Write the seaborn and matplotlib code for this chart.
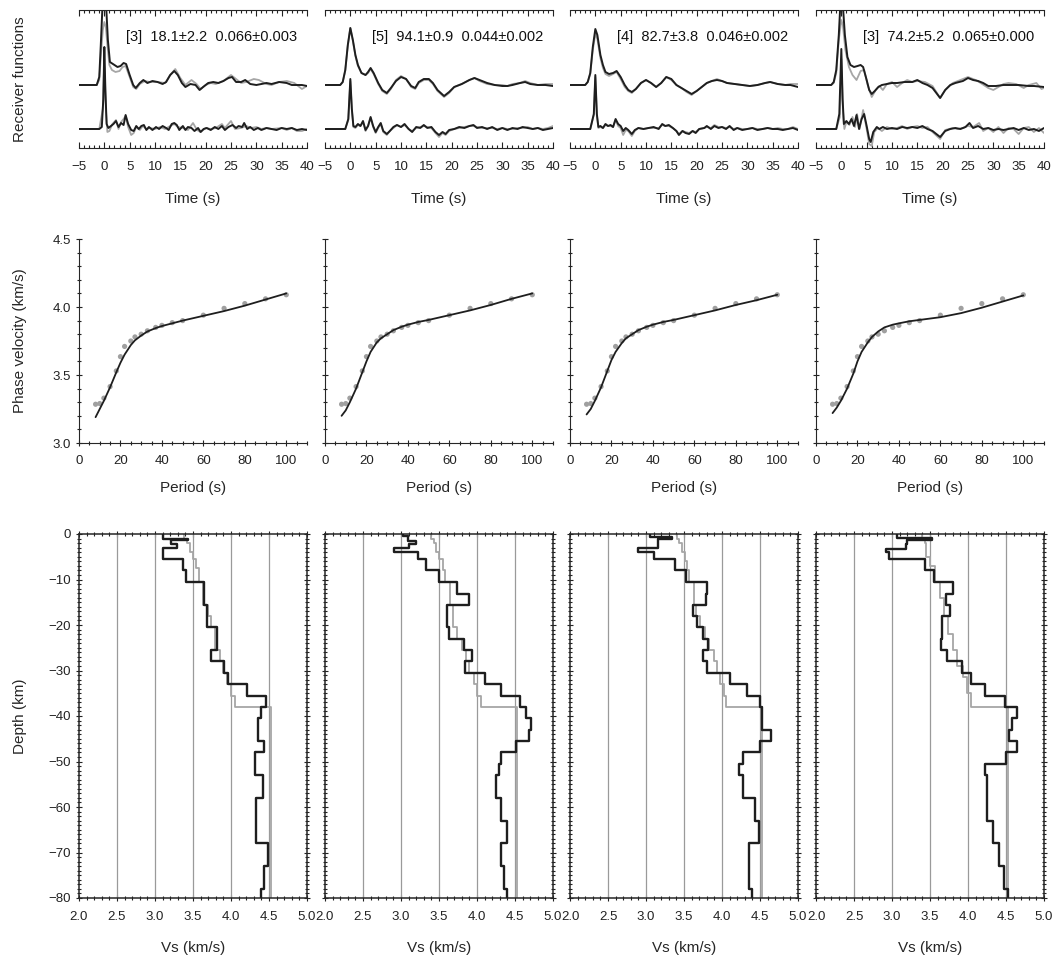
import numpy as np
import pandas as pd
import matplotlib
matplotlib.use("Agg")
import matplotlib.pyplot as plt
from matplotlib.ticker import MultipleLocator
import seaborn as sns

sns.set_style("ticks")
plt.rcParams["font.family"] = ["Liberation Sans", "DejaVu Sans"]

DARK = "#1e1e1e"
LIGHT = "#a6a6a6"

# ---------------- receiver functions (time s, amplitude) ----------------
rf_labels = ["[3]  18.1±2.2  0.066±0.003", "[5]  94.1±0.9  0.044±0.002",
             "[4]  82.7±3.8  0.046±0.002", "[3]  74.2±5.2  0.065±0.000"]

# station 1
rf1_up_dark = [(-5, 0), (-1.5, 0), (-1, 8), (-0.7, 40), (-0.4, 75), (0, 95), (0.4, 75), (0.7, 45), (1.1, 23),
               (2.0, 20), (2.6, 18), (3.2, 19), (3.8, 22), (4.3, 21), (5.0, 10), (5.7, 0), (6.2, -3), (7.0, 2),
               (7.7, 5), (8.5, 2), (9.5, 4), (10.5, 3), (11.5, 1), (12.2, 3), (13.0, 10), (13.8, 14), (14.5, 10),
               (15.3, 2), (16.0, -2), (17.0, 1), (18.0, 0), (18.8, -5), (19.5, -2), (20.5, 2), (21.5, 3),
               (22.5, 2), (23.5, 4), (24.5, 7), (25.2, 8), (26, 3), (27, 3), (27.8, 5), (28.8, 1), (30, 0),
               (31, 1), (32, 2), (33, 1), (34.5, 3), (36, 2), (37, 0), (39, 0), (40, -1)]
rf1_up_light = [(-5, 0), (-1.5, 0), (-1, 5), (-0.6, 35), (-0.3, 55), (0, 63), (0.3, 58), (0.6, 40), (1.0, 20),
                (1.5, 15), (2.2, 13), (3.0, 14), (3.6, 18), (4.2, 19), (5.0, 8), (5.7, -2), (6.3, -4), (7.0, 1),
                (8.0, 4), (9.0, 3), (10.5, 3), (12.0, 2), (13.0, 10), (14.0, 16), (15.0, 7), (16.0, 0),
                (17.2, 5), (18.2, 1), (19, -4), (20, 0), (21, 2), (22, 1), (23.5, 4), (25, 10), (26, 6), (27, 2),
                (28, 3), (29.5, 6), (30.5, 5), (32, 1), (33, 0), (34.5, 3), (36, 4), (37.5, 2), (39, -4), (40, -1)]
rf1_lo_dark = [(-5, 0), (-1.0, 0), (-0.5, 2), (-0.2, 30), (0, 82), (0.2, 40), (0.45, 5), (0.8, 1), (1.3, 3),
               (1.8, 5), (2.3, 8), (2.8, 2), (3.3, 6), (3.8, 4), (4.2, 14), (4.7, 5), (5.3, -1), (5.8, -2),
               (6.3, 3), (6.8, 0), (7.3, 3), (7.8, 4), (8.3, -1), (8.8, 2), (9.5, -1), (10.2, 2), (10.8, 0),
               (11.5, 3), (12.2, 1), (12.7, -1), (13.3, 5), (13.8, 6), (14.3, 4), (14.8, -1), (15.5, 3),
               (16.0, -1), (16.5, 2), (17.2, 1), (17.8, -2), (18.5, 1), (19.0, -3), (19.6, 0), (20.2, 1),
               (21, -1), (21.8, 2), (22.5, 0), (23.2, 3), (23.8, -1), (24.5, 2), (25.3, 4), (26, 1), (26.5, 3),
               (27.2, 2), (27.6, 6), (28.2, 0), (28.8, 2), (29.5, -1), (30.3, 1), (31, -1), (32, 1), (33, 0),
               (34, -1), (35, 1), (36, 0), (37, 1), (38, -1), (39, 0), (40, -1)]
rf1_lo_light = [(-5, 0), (-1, 0), (-0.3, 20), (0, 70), (0.3, 20), (0.6, -3), (1.0, -2), (1.6, 5), (2.3, 9),
                (2.8, 0), (3.3, 7), (3.8, 10), (4.2, 13), (4.7, 2), (5.3, -6), (5.8, -4), (6.3, 2), (7, -1),
                (7.6, 3), (8.3, 0), (9, 1), (10, 0), (11, 2), (12, 0), (13, 3), (13.8, 5), (14.5, 2), (15.5, 1),
                (16.5, -1), (17.5, 6), (18.3, -1), (19, -3), (20, 1), (21, 0), (22, 1), (23.2, 5), (23.8, 1),
                (25.0, 8), (25.8, 0), (27, 1), (28, 3), (29, 1), (30, 2), (31, 0), (32, 1), (33, 0), (35, 1),
                (36, -1), (37, 1), (38, -2), (39, -2), (40, 0)]

# station 2
rf2_up_dark = [(-5, 0), (-2, 0), (-1.5, 3), (-1, 15), (-0.5, 40), (0, 57), (0.5, 45), (1.0, 30), (1.5, 20),
               (2.2, 12), (3.0, 10), (3.5, 13), (4.0, 17), (4.6, 12), (5.5, 2), (6.3, -5), (7.2, -8), (8.0, -3),
               (9.0, 4), (10.0, 8), (11.0, 6), (12.0, -1), (12.8, -3), (13.5, 3), (14.5, 6), (15.5, 6),
               (16.3, 2), (17.2, -5), (18.5, -11), (19.5, -7), (20.5, -2), (22, 1), (23.5, 5), (24.5, 7),
               (25.5, 5), (27, 2), (28.5, 0), (30, -1), (31, -1), (32, 0), (33.5, 2), (34.5, 3), (35.5, 1),
               (37, 0), (38.5, 0), (40, -1)]
rf2_up_light = [(-5, 0), (-2, 0), (-1.5, 3), (-1, 14), (-0.5, 39), (0, 57), (0.5, 44), (1.0, 29), (1.5, 19),
                (2.2, 12), (3.0, 10), (3.5, 12), (4.0, 16), (4.6, 11), (5.5, 1), (6.3, -6), (7.2, -9), (8.0, -4),
                (9.0, 5), (10.0, 9), (11.0, 6), (12.0, -2), (12.8, -4), (13.5, 2), (14.5, 5), (15.5, 5),
                (16.3, 1), (17.2, -6), (18.5, -12), (19.5, -8), (20.5, -2), (22, 1), (23.5, 5), (24.5, 7),
                (25.5, 4), (27, 1), (28.5, 0), (30, 0), (31, -1), (32, 1), (33.5, 2), (34.5, 4), (35.5, 2),
                (37, 0), (38.5, 1), (40, 1)]
rf2_lo_dark = [(-5, 0), (-1, 0), (-0.4, 10), (0, 50), (0.3, 20), (0.6, 3), (1.0, 2), (1.5, 5), (2.0, 3),
               (2.5, 8), (3.0, -1), (3.5, 3), (4.0, 12), (4.5, 3), (5.0, -3), (5.5, 2), (6.0, 6), (6.5, -2),
               (7.2, -5), (7.8, -2), (8.5, 2), (9.2, 4), (10, 2), (10.7, 5), (11.5, 0), (12.2, -3), (13, 2),
               (13.8, 1), (14.5, 4), (15.2, 1), (16, 2), (16.8, -3), (17.5, -6), (18.2, -3), (18.8, -5),
               (19.5, -1), (20.5, 0), (21.5, 2), (22.5, 1), (23.5, 3), (24.3, 4), (25, 1), (26, 2), (27, 0),
               (28, 2), (29, -1), (30, 1), (31, -1), (32, 1), (33, 0), (34, 2), (35, 1), (36, 0), (37, 1),
               (38, -1), (39, 0), (40, 1)]
rf2_lo_light = [(-5, 0), (-1, 0), (-0.4, 9), (0, 48), (0.3, 19), (0.6, 2), (1.0, 1), (1.5, 4), (2.0, 3),
                (2.5, 7), (3.0, -2), (3.5, 3), (4.0, 11), (4.5, 2), (5.0, -4), (5.5, 1), (6.0, 5), (6.5, -3),
                (7.2, -6), (7.8, -2), (8.5, 1), (9.2, 4), (10, 2), (10.7, 4), (11.5, 0), (12.2, -2), (13, 1),
                (13.8, 2), (14.5, 3), (15.2, 2), (16, 1), (16.8, -4), (17.5, -8), (18.2, -4), (18.8, -6),
                (19.5, -2), (20.5, 0), (21.5, 1), (22.5, 2), (23.5, 3), (24.3, 3), (25, 2), (26, 1), (27, 1),
                (28, 1), (29, 0), (30, 1), (31, 0), (32, 0), (33, 1), (34, 1), (35, 2), (36, 0), (37, 1),
                (38, 0), (39, 1), (40, 3)]

# station 3
rf3_up_dark = [(-5, 0), (-2, 0), (-1.5, 3), (-1, 12), (-0.5, 38), (0, 56), (0.4, 50), (1.0, 30), (1.5, 20),
               (2.0, 13), (2.7, 11), (3.5, 12), (4.2, 14), (5.0, 8), (5.8, 0), (6.5, -5), (7.2, -7), (8.0, -4),
               (9.0, 2), (10.0, 5), (11.0, 2), (12.0, -2), (13.0, 2), (14.0, 8), (15.0, 6), (16.0, 0),
               (17.0, -3), (18.0, -6), (19.0, -9), (20.0, -6), (21.0, -2), (22.0, 2), (23.0, 4), (24.0, 5),
               (25.0, 4), (26.0, 2), (27.5, 1), (29, 0), (30.5, -1), (32, 0), (33.5, 2), (34.5, 3), (36, 1),
               (37.5, 0), (38.5, 0), (40, -2)]
rf3_up_light = [(-5, 0), (-2, 0), (-1.5, 3), (-1, 11), (-0.5, 35), (0, 51), (0.4, 46), (1.0, 27), (1.5, 17),
                (2.0, 11), (2.7, 9), (3.5, 11), (4.2, 13), (5.0, 6), (5.8, -2), (6.5, -6), (7.2, -8), (8.0, -4),
                (9.0, 2), (10.0, 5), (11.0, 2), (12.0, -2), (13.0, 2), (14.0, 8), (15.0, 5), (16.0, 0),
                (17.0, -3), (18.0, -7), (19.0, -10), (20.0, -6), (21.0, -2), (22.0, 2), (23.0, 4), (24.0, 6),
                (25.0, 4), (26.0, 2), (27.5, 1), (29, 0), (30.5, -1), (32, 0), (33.5, 2), (34.5, 3), (36, 1),
                (37.5, 0), (38.5, 1), (40, 1)]
rf3_lo_dark = [(-5, 0), (-1, 0), (-0.3, 15), (0, 54), (0.3, 15), (0.6, 2), (1.0, 3), (1.5, 1), (2.0, 5),
               (2.5, 3), (3.0, 4), (3.5, 2), (4.0, 10), (4.5, 5), (5.0, 3), (5.5, -2), (6.0, 1), (6.5, -1),
               (7.2, -5), (7.8, -1), (8.5, 1), (9.5, 0), (10.5, 1), (11.5, 2), (12.5, 0), (13.2, 5), (13.8, 3),
               (14.5, 4), (15.3, 1), (16, -2), (16.5, -6), (17.2, -2), (17.8, -4), (18.5, -5), (19.2, -2),
               (19.8, -4), (20.5, 0), (21.5, 1), (22, 3), (22.8, 0), (23.5, 3), (24.3, 1), (25, 2), (25.8, 0),
               (26.5, 3), (27.3, -1), (28, 1), (29, -1), (30, 0), (31, 1), (32, -1), (33, 0), (34, 1), (35, 0),
               (36, 0), (37, -1), (38, 0), (39, 1), (40, -1)]
rf3_lo_light = [(-5, 0), (-1, 0), (-0.3, 14), (0, 52), (0.3, 14), (0.6, 1), (1.0, 2), (1.5, 1), (2.0, 4),
                (2.5, 3), (3.0, 3), (3.5, 2), (4.0, 9), (4.5, 3), (5.0, 1), (5.5, -6), (6.0, -1), (6.5, -2),
                (7.2, -7), (7.8, -2), (8.5, 1), (9.5, 0), (10.5, 1), (11.5, 1), (12.5, 1), (13.2, 4), (13.8, 3),
                (14.5, 3), (15.3, 1), (16, -2), (16.5, -5), (17.2, -2), (17.8, -3), (18.5, -4), (19.2, -2),
                (19.8, -3), (20.5, 0), (21.5, 1), (22, 2), (22.8, 1), (23.5, 4), (24.3, 2), (25, 2), (25.8, 1),
                (26.5, 2), (27.3, 0), (28, 1), (29, 0), (30, 0), (31, 1), (32, 0), (33, 0), (34, 1), (35, 0),
                (36, 1), (37, 0), (38, 0), (39, 2), (40, 0)]

# station 4
rf4_up_dark = [(-5, 0), (-2, 0), (-1.5, 3), (-1, 15), (-0.5, 50), (-0.2, 80), (0, 95), (0.3, 80), (0.7, 50),
               (1.2, 28), (1.8, 20), (2.5, 18), (3.2, 19), (3.8, 20), (4.3, 18), (5.0, 5), (5.5, -5), (6.0, -9),
               (6.6, -6), (7.3, -2), (8.0, 0), (9.0, 1), (10.0, 2), (11.0, 2), (12.5, 3), (14, 3), (15, 5),
               (16, 2), (17, 0), (18, -3), (19.5, -13), (20.5, -5), (21.5, 0), (22.5, 2), (24, 4), (25, 7),
               (26, 5), (27, 4), (28, 2), (29, -1), (30.5, -1), (32, 0), (33, 0), (35, 0), (37, -1), (38, -1),
               (40, -2)]
rf4_up_light = [(-5, 0), (-2, 0), (-1.5, 2), (-1, 12), (-0.5, 45), (0, 65), (0.3, 60), (0.8, 35), (1.5, 18),
                (2.2, 10), (3.0, 5), (3.8, 14), (4.5, 15), (5.2, 0), (6.0, -12), (6.8, -5), (7.5, -1), (8.2, -5),
                (9.0, 1), (10.0, 3), (11.0, -2), (12.0, 2), (13.0, 5), (14.0, 3), (15.0, 4), (16.5, 3),
                (18, -1), (19.5, -13), (20.5, -5), (22, 2), (23.5, 5), (25, 8), (26.5, 5), (27.5, 2), (29, -3),
                (30, -5), (31, -2), (32, 1), (33, 2), (34.5, 1), (36, -3), (37, 0), (38.5, 2), (39.5, -4),
                (40, -3)]
rf4_lo_dark = [(-5, 0), (-1, 0), (-0.4, 15), (0, 80), (0.25, 30), (0.5, 5), (1.0, 8), (1.5, 5), (2.0, 10),
               (2.5, 3), (3.0, 14), (3.5, 0), (4.0, 10), (4.5, 15), (5.0, 3), (5.5, -10), (5.8, -13), (6.3, -3),
               (7.0, 2), (7.5, 0), (8.2, 2), (9, 0), (10, 1), (11, 0), (12, 2), (13, 1), (14, 2), (15, 1),
               (16, 3), (17, 0), (18, -2), (19.5, -8), (20.5, -2), (21.5, 0), (22.5, 1), (23.5, 0), (24.5, 2),
               (25.3, 6), (26, 1), (27, 3), (28, 0), (29, 1), (30, -1), (31, 0), (32, -1), (33, 0), (34, 1),
               (35, -1), (36, 1), (37, -1), (38, 0), (39, -2), (40, 1)]
rf4_lo_light = [(-5, 0), (-1, 0), (-0.3, 12), (0, 70), (0.3, 20), (0.6, 0), (1.0, 7), (1.6, 4), (2.2, 12),
                (2.7, 2), (3.1, 15), (3.6, 0), (4.3, 19), (5.0, 0), (5.5, -15), (6.0, -17), (6.5, -3), (7.2, 1),
                (8, -2), (9, 2), (10, 0), (11, 1), (12, 3), (13, 0), (14, 2), (15, 3), (16, 1), (17, 2),
                (18, -3), (19.5, -10), (20.5, -1), (22, 1), (23, 0), (24, 1), (25, 3), (26, 2), (27.2, 6),
                (28, -2), (29, 1), (30, -3), (31, 2), (32, -4), (33, 1), (34, 0), (35, -5), (36, 1), (37, 2),
                (38, -3), (39, 1), (40, -4)]

# ---------------- phase velocity dispersion ----------------
period = [8, 10, 12, 15, 18, 20, 22, 25, 27, 30, 33, 37, 40, 45, 50, 60, 70, 80, 90, 100]
c_obs = [3.285, 3.29, 3.33, 3.415, 3.53, 3.635, 3.71, 3.75, 3.78, 3.80, 3.825, 3.85, 3.865, 3.885,
         3.90, 3.94, 3.99, 4.025, 4.06, 4.09]
c_fit1 = [3.19, 3.25, 3.31, 3.41, 3.52, 3.59, 3.65, 3.72, 3.755, 3.79, 3.82, 3.845, 3.86, 3.88,
          3.90, 3.935, 3.97, 4.01, 4.055, 4.10]
c_fit2 = [3.20, 3.24, 3.30, 3.40, 3.52, 3.60, 3.67, 3.74, 3.77, 3.80, 3.83, 3.855, 3.87, 3.89,
          3.905, 3.94, 3.975, 4.015, 4.06, 4.10]
c_fit3 = [3.21, 3.25, 3.31, 3.41, 3.53, 3.61, 3.67, 3.735, 3.77, 3.80, 3.83, 3.855, 3.87, 3.89,
          3.905, 3.94, 3.975, 4.015, 4.05, 4.09]
c_fit4 = [3.22, 3.26, 3.31, 3.40, 3.51, 3.60, 3.67, 3.74, 3.78, 3.82, 3.85, 3.87, 3.88, 3.895,
          3.905, 3.925, 3.955, 3.995, 4.04, 4.085]

# ---------------- Vs models: (layer bottom depth km, Vs km/s) ----------------
vs1_dark = [(1.0, 3.10), (1.4, 3.44), (2.3, 3.21), (3.0, 3.29), (5.5, 3.11), (8.0, 3.37), (10.5, 3.41),
            (15.5, 3.64), (20.5, 3.68), (25.5, 3.81), (28.0, 3.74), (30.5, 3.91), (33.0, 3.96), (35.5, 4.21),
            (38.0, 4.46), (40.5, 4.40), (45.5, 4.36), (48.0, 4.44), (53.0, 4.32), (58.0, 4.42), (68.0, 4.33),
            (73.0, 4.49), (78.0, 4.43), (80.0, 4.39)]
vs1_light = [(1.0, 3.38), (2.0, 3.42), (4.0, 3.46), (5.5, 3.50), (7.5, 3.54), (10.5, 3.58), (15.5, 3.63),
             (18.0, 3.70), (20.5, 3.74), (25.5, 3.79), (28.0, 3.85), (30.5, 3.89), (33.0, 3.95), (35.5, 4.00),
             (38.0, 4.05), (80.0, 4.53)]
vs2_dark = [(0.5, 3.02), (1.6, 3.09), (2.1, 3.20), (3.1, 3.10), (4.0, 2.91), (5.6, 3.22), (8.0, 3.33),
            (10.5, 3.50), (13.1, 3.74), (15.5, 3.89), (20.5, 3.61), (23.0, 3.63), (25.5, 3.83), (28.0, 3.94),
            (30.5, 3.84), (33.0, 4.11), (35.5, 4.32), (38.0, 4.56), (40.5, 4.64), (43.0, 4.71), (45.5, 4.68),
            (48.0, 4.51), (50.5, 4.31), (53.0, 4.29), (58.0, 4.25), (63.0, 4.31), (68.0, 4.40), (73.0, 4.31),
            (78.0, 4.35), (80.0, 4.39)]
vs2_light = [(1.0, 3.40), (2.0, 3.43), (4.0, 3.46), (5.5, 3.50), (8.0, 3.55), (10.5, 3.58), (15.5, 3.64),
             (20.5, 3.68), (23.0, 3.74), (25.5, 3.80), (28.0, 3.86), (30.5, 3.90), (33.0, 3.96), (35.5, 4.00),
             (38.0, 4.05), (80.0, 4.52)]
vs3_dark = [(0.6, 3.05), (1.2, 3.34), (3.1, 3.16), (4.0, 2.89), (5.5, 3.10), (8.0, 3.38), (10.5, 3.52),
            (13.1, 3.80), (15.5, 3.79), (18.0, 3.62), (20.5, 3.67), (23.0, 3.75), (25.5, 3.82), (28.0, 3.75),
            (30.5, 3.80), (33.0, 4.11), (35.5, 4.33), (38.0, 4.50), (43.0, 4.52), (45.5, 4.64), (48.0, 4.50),
            (50.5, 4.28), (53.0, 4.23), (58.0, 4.27), (63.0, 4.44), (68.0, 4.49), (73.0, 4.35), (78.0, 4.36),
            (80.0, 4.39)]
vs3_light = [(1.0, 3.41), (2.0, 3.44), (4.0, 3.47), (6.0, 3.51), (8.0, 3.54), (10.5, 3.57), (15.5, 3.63),
             (18.0, 3.66), (20.5, 3.71), (23.0, 3.77), (25.5, 3.83), (28.0, 3.90), (30.5, 3.93), (33.0, 3.97),
             (35.5, 4.02), (38.0, 4.05), (80.0, 4.53)]
vs4_dark = [(0.8, 3.06), (1.3, 3.53), (2.3, 3.20), (3.3, 3.18), (4.0, 2.92), (5.5, 2.96), (8.0, 3.44),
            (10.5, 3.55), (13.1, 3.80), (15.5, 3.71), (18.0, 3.76), (23.0, 3.66), (25.5, 3.65), (28.0, 3.73),
            (30.5, 3.92), (33.0, 4.04), (35.5, 4.22), (38.0, 4.49), (40.5, 4.65), (43.0, 4.58), (45.5, 4.54),
            (48.0, 4.64), (50.5, 4.50), (53.0, 4.23), (63.0, 4.25), (68.0, 4.33), (73.0, 4.41), (78.0, 4.47),
            (80.0, 4.52)]
vs4_light = [(1.0, 3.40), (2.0, 3.43), (5.0, 3.45), (7.0, 3.50), (10.5, 3.56), (14.0, 3.63), (18.0, 3.68),
             (22.0, 3.74), (25.5, 3.80), (29.0, 3.86), (31.5, 3.93), (35.0, 3.99), (38.0, 4.04), (80.0, 4.52)]

rf_sets = [(rf1_up_dark, rf1_up_light, rf1_lo_dark, rf1_lo_light),
           (rf2_up_dark, rf2_up_light, rf2_lo_dark, rf2_lo_light),
           (rf3_up_dark, rf3_up_light, rf3_lo_dark, rf3_lo_light),
           (rf4_up_dark, rf4_up_light, rf4_lo_dark, rf4_lo_light)]
c_fits = [c_fit1, c_fit2, c_fit3, c_fit4]
vs_sets = [(vs1_dark, vs1_light), (vs2_dark, vs2_light), (vs3_dark, vs3_light), (vs4_dark, vs4_light)]


def step_profile(layers):
    # turn (bottom depth, Vs) layers into a staircase table
    rows, top = [], 0.0
    for bot, v in layers:
        rows.append((v, -top))
        rows.append((v, -bot))
        top = bot
    return pd.DataFrame(rows, columns=["vs", "depth"])


W, H = 1057, 961
fig = plt.figure(figsize=(W / 100, H / 100), dpi=100)
col_left = [79, 325, 570, 816]
col_w = 228


def add_ax(left, top, bottom):
    return fig.add_axes([left / W, 1 - bottom / H, col_w / W, (bottom - top) / H])


tick_kw = dict(width=0.8, color="#222222", labelsize=9.5, labelcolor="#222222")

for i in range(4):
    left = col_left[i]

    # ---- row 1: receiver functions
    ax = add_ax(left, 10, 148)
    up_d, up_l, lo_d, lo_l = rf_sets[i]
    for trace, off, col, lw in [(up_l, 0, LIGHT, 1.3), (lo_l, -44, LIGHT, 1.3),
                                (up_d, 0, DARK, 1.4), (lo_d, -44, DARK, 1.4)]:
        df = pd.DataFrame(trace, columns=["t", "a"])
        sns.lineplot(x=df["t"], y=df["a"] + off, ax=ax, color=col, lw=lw)
    ax.set_xlim(-5, 40)
    ax.set_ylim(-63, 75)
    ax.text(4.2, 48, rf_labels[i], fontsize=10.5, va="center", ha="left", color="#111111")
    for s in ["left", "right"]:
        ax.spines[s].set_visible(False)
    ax.set_yticks([])
    ax.set_ylabel("")
    ax.xaxis.set_major_locator(MultipleLocator(5))
    ax.xaxis.set_minor_locator(MultipleLocator(1))
    ax.tick_params(axis="x", which="both", top=True, bottom=True, direction="in", pad=9, **tick_kw)
    ax.tick_params(axis="x", which="major", length=4)
    ax.tick_params(axis="x", which="minor", length=2)
    ax.set_xlabel("Time (s)", fontsize=11, labelpad=14)

    # ---- row 2: phase velocity
    ax = add_ax(left, 239, 443)
    sns.scatterplot(x=period, y=c_obs, ax=ax, color="#a0a0a0", s=14, edgecolor="none", zorder=2)
    sns.lineplot(x=period, y=c_fits[i], ax=ax, color=DARK, lw=1.3, zorder=3)
    ax.set_xlim(0, 110)
    ax.set_ylim(3.0, 4.5)
    sns.despine(ax=ax)
    ax.set_xticks([0, 20, 40, 60, 80, 100])
    ax.xaxis.set_minor_locator(MultipleLocator(5))
    ax.set_yticks([3.0, 3.5, 4.0, 4.5])
    ax.yaxis.set_minor_locator(MultipleLocator(0.1))
    ax.tick_params(which="both", direction="inout", **tick_kw)
    ax.tick_params(axis="x", pad=6)
    ax.tick_params(which="major", length=5)
    ax.tick_params(which="minor", length=3)
    if i == 0:
        ax.set_yticklabels(["3.0", "3.5", "4.0", "4.5"])
    else:
        ax.set_yticklabels([])
    ax.set_xlabel("Period (s)", fontsize=11, labelpad=10)

    # ---- row 3: Vs profile
    ax = add_ax(left, 534, 898)
    for v in [2.5, 3.0, 3.5, 4.0, 4.5]:
        ax.axvline(v, color="#9a9a9a", lw=0.9, zorder=1)
    dark, light = vs_sets[i]
    sns.lineplot(data=step_profile(light), x="vs", y="depth", sort=False, estimator=None,
                 ax=ax, color=LIGHT, lw=1.3, zorder=2)
    sns.lineplot(data=step_profile(dark), x="vs", y="depth", sort=False, estimator=None,
                 ax=ax, color=DARK, lw=1.7, zorder=3)
    ax.set_xlim(2.0, 5.0)
    ax.set_ylim(-80, 0)
    ax.set_xticks(np.arange(2.0, 5.01, 0.5))
    ax.set_xticklabels([f"{v:.1f}" for v in np.arange(2.0, 5.01, 0.5)])
    ax.xaxis.set_minor_locator(MultipleLocator(0.1))
    ax.yaxis.set_major_locator(MultipleLocator(10))
    ax.yaxis.set_minor_locator(MultipleLocator(1))
    ax.tick_params(which="both", direction="inout", top=True, right=True, **tick_kw)
    ax.tick_params(axis="x", pad=7)
    ax.tick_params(which="major", length=5)
    ax.tick_params(which="minor", length=2.5)
    for s in ax.spines.values():
        s.set_linewidth(1.1)
    if i > 0:
        ax.set_yticklabels([])
    ax.set_ylabel("")
    ax.set_xlabel("Vs (km/s)", fontsize=11, labelpad=13)

fig.text(20 / W, 1 - 79 / H, "Receiver functions", rotation=90, ha="center", va="center", fontsize=11)
fig.text(20 / W, 1 - 341 / H, "Phase velocity (km/s)", rotation=90, ha="center", va="center", fontsize=11)
fig.text(20 / W, 1 - 716 / H, "Depth (km)", rotation=90, ha="center", va="center", fontsize=11)

fig.savefig("out.png", dpi=100)
